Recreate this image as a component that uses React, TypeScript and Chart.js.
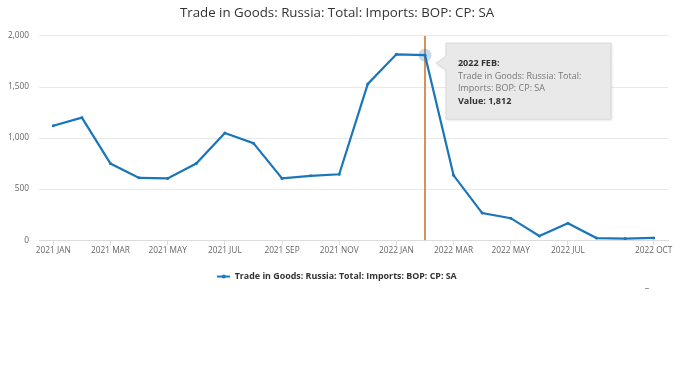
import React, { useEffect, useRef } from "react";
import { Chart, registerables } from "chart.js";

Chart.register(...registerables);

const FONT = "'Open Sans', sans-serif";

const categories = [
  "2021 JAN", "2021 FEB", "2021 MAR", "2021 APR", "2021 MAY", "2021 JUN",
  "2021 JUL", "2021 AUG", "2021 SEP", "2021 OCT", "2021 NOV", "2021 DEC",
  "2022 JAN", "2022 FEB", "2022 MAR", "2022 APR", "2022 MAY", "2022 JUN",
  "2022 JUL", "2022 AUG", "2022 SEP", "2022 OCT",
];

const values = [
  1120, 1200, 750, 610, 605, 750, 1050, 950, 605, 630, 645, 1530,
  1820, 1812, 635, 265, 215, 40, 165, 20, 15, 22,
];

const tickLabels = [
  "2021 JAN", "2021 MAR", "2021 MAY", "2021 JUL", "2021 SEP", "2021 NOV",
  "2022 JAN", "2022 MAR", "2022 MAY", "2022 JUL", "2022 OCT",
];

const yTicks = [0, 500, 1000, 1500, 2000];

const seriesName = "Trade in Goods: Russia: Total: Imports: BOP: CP: SA";
const titleText = "Trade in Goods: Russia: Total: Imports: BOP: CP: SA";
const hoverIndex = 13;

const LINE_COLOR = "#1a75b9";
const CROSS_COLOR = "#d9915a";

export default function App() {
  const ref = useRef<HTMLCanvasElement | null>(null);

  useEffect(() => {
    if (!ref.current) return;

    const icon = document.createElement("canvas");
    icon.width = 13;
    icon.height = 5;
    const ic = icon.getContext("2d")!;
    ic.strokeStyle = LINE_COLOR;
    ic.lineWidth = 2;
    ic.beginPath();
    ic.moveTo(0, 2.5);
    ic.lineTo(13, 2.5);
    ic.stroke();
    ic.fillStyle = LINE_COLOR;
    ic.beginPath();
    ic.arc(6.5, 2.5, 2, 0, Math.PI * 2);
    ic.fill();

    const crossPlugin = {
      id: "cross",
      beforeDatasetsDraw(chart: any) {
        const pt = chart.getDatasetMeta(0).data[hoverIndex];
        const { ctx, chartArea } = chart;
        ctx.save();
        ctx.strokeStyle = CROSS_COLOR;
        ctx.lineWidth = 2;
        ctx.beginPath();
        ctx.moveTo(pt.x, chartArea.top);
        ctx.lineTo(pt.x, chartArea.bottom);
        ctx.stroke();
        ctx.restore();
      },
    };

    const tipPlugin = {
      id: "tip",
      afterDatasetsDraw(chart: any) {
        const pt = chart.getDatasetMeta(0).data[hoverIndex];
        const x = pt.x;
        const y = pt.y;
        const ctx = chart.ctx;
        ctx.save();
        ctx.beginPath();
        ctx.arc(x, y, 6.5, 0, Math.PI * 2);
        ctx.fillStyle = "rgba(26,117,185,0.25)";
        ctx.fill();

        const bx = x + 21;
        const by = y - 12;
        const bw = 165;
        const bh = 76;
        ctx.beginPath();
        ctx.moveTo(bx, by);
        ctx.lineTo(bx + bw, by);
        ctx.lineTo(bx + bw, by + bh);
        ctx.lineTo(bx, by + bh);
        ctx.lineTo(bx, y + 15);
        ctx.lineTo(bx - 10, y + 8);
        ctx.lineTo(bx, y + 1);
        ctx.closePath();
        ctx.shadowColor = "rgba(0,0,0,0.12)";
        ctx.shadowBlur = 3;
        ctx.shadowOffsetX = 1;
        ctx.shadowOffsetY = 1;
        ctx.fillStyle = "#e9e9e9";
        ctx.fill();
        ctx.shadowColor = "transparent";
        ctx.strokeStyle = "#d8d8d8";
        ctx.lineWidth = 1;
        ctx.stroke();

        const tx = bx + 12;
        ctx.textBaseline = "middle";
        ctx.textAlign = "left";
        ctx.fillStyle = "#333";
        ctx.font = `bold 9px ${FONT}`;
        ctx.fillText(categories[hoverIndex] + ":", tx, y + 8);
        ctx.fillStyle = "#777";
        ctx.font = `9px ${FONT}`;
        ctx.fillText("Trade in Goods: Russia: Total:", tx, y + 21);
        ctx.fillText("Imports: BOP: CP: SA", tx, y + 33.5);
        ctx.fillStyle = "#333";
        ctx.font = `bold 9px ${FONT}`;
        ctx.fillText("Value: " + values[hoverIndex].toLocaleString("en-US"), tx, y + 46);
        ctx.restore();
      },
      afterDraw(chart: any) {
        const ctx = chart.ctx;
        ctx.save();
        ctx.fillStyle = "#999";
        ctx.fillRect(645, 288, 4, 1);
        ctx.restore();
      },
    };

    const chart = new Chart(ref.current, {
      type: "line",
      data: {
        labels: categories,
        datasets: [
          {
            label: seriesName,
            data: values,
            borderColor: LINE_COLOR,
            backgroundColor: LINE_COLOR,
            borderWidth: 2.2,
            pointRadius: 1.5,
            pointBorderWidth: 0,
            pointBackgroundColor: LINE_COLOR,
            tension: 0,
            fill: false,
          },
        ],
      },
      options: {
        responsive: false,
        animation: false,
        events: [],
        layout: { padding: { left: 6, right: 12, top: 0, bottom: 91 } },
        plugins: {
          title: {
            display: true,
            text: titleText,
            color: "#333",
            font: { family: FONT, size: 13.3, weight: "normal" },
            padding: { top: 5, bottom: 15 },
          },
          legend: {
            display: true,
            position: "bottom",
            labels: {
              usePointStyle: true,
              pointStyle: icon as any,
              pointStyleWidth: 13,
              boxHeight: 8,
              color: "#333",
              padding: 15,
              font: { family: FONT, size: 8.9, weight: "bold" },
            },
          },
          tooltip: { enabled: false },
        },
        scales: {
          x: {
            type: "category",
            offset: true,
            grid: {
              offset: false,
              drawOnChartArea: false,
              drawTicks: true,
              tickLength: 5,
              color: (c: any) =>
                tickLabels.includes(categories[c.index]) ? "#dcdcdc" : "transparent",
            },
            border: { color: "#dcdcdc" },
            ticks: {
              autoSkip: false,
              maxRotation: 0,
              padding: 1,
              color: "#666",
              font: { family: FONT, size: 8.3 },
              callback: (_v: any, i: number) =>
                tickLabels.includes(categories[i]) ? categories[i] : "",
            },
          },
          y: {
            min: yTicks[0],
            max: yTicks[yTicks.length - 1],
            afterBuildTicks: (s: any) => {
              s.ticks = yTicks.map((v) => ({ value: v }));
            },
            afterFit: (s: any) => {
              s.width = 33;
            },
            grid: { color: "#e8e8e8", drawTicks: false },
            border: { display: false },
            ticks: {
              padding: 10,
              color: "#666",
              font: { family: FONT, size: 8.3 },
              callback: (v: any) => Number(v).toLocaleString("en-US"),
            },
          },
        },
      },
      plugins: [crossPlugin, tipPlugin],
    });

    return () => chart.destroy();
  }, []);

  return (
    <div style={{ position: "fixed", left: 0, top: 0, width: 680, height: 382, background: "#fff" }}>
      <canvas ref={ref} width={680} height={382} style={{ width: 680, height: 382 }} />
    </div>
  );
}
